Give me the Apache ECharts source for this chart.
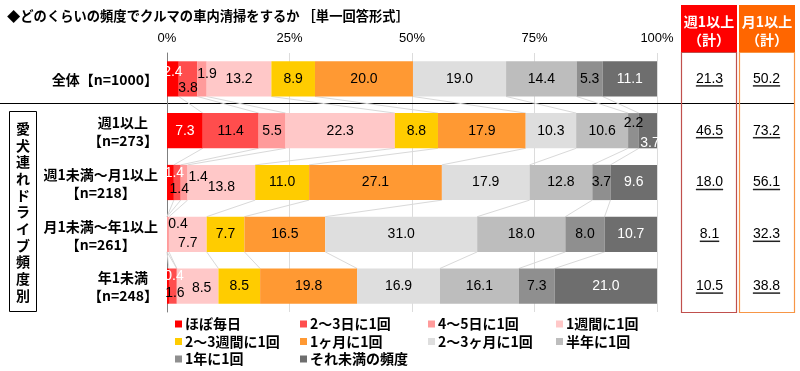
<!DOCTYPE html>
<html><head><meta charset="utf-8">
<script src="https://cdn.jsdelivr.net/npm/echarts@6/dist/echarts.min.js"></script>
<style>html,body{margin:0;padding:0;background:#fff}#c{width:800px;height:371px}</style>
</head><body><div id="c"></div>
<script>
// ---------- data ----------
const categories = ['全体【n=1000】', '週1以上\n【n=273】', '週1未満～月1以上\n【n=218】', '月1未満～年1以上\n【n=261】', '年1未満\n【n=248】'];
const seriesNames = ['ほぼ毎日', '2～3日に1回', '4～5日に1回', '1週間に1回', '2～3週間に1回', '1ヶ月に1回', '2～3ヶ月に1回', '半年に1回', '1年に1回', 'それ未満の頻度'];
const daily          = [2.4, 7.3, 1.4, 0.0, 0.4];
const every2to3Days  = [3.8, 11.4, 1.4, 0.0, 1.6];
const every4to5Days  = [1.9, 5.5, 1.4, 0.4, 0.0];
const weekly         = [13.2, 22.3, 13.8, 7.7, 8.5];
const every2to3Weeks = [8.9, 8.8, 11.0, 7.7, 8.5];
const monthly        = [20.0, 17.9, 27.1, 16.5, 19.8];
const every2to3Months= [19.0, 10.3, 17.9, 31.0, 16.9];
const halfYear       = [14.4, 10.6, 12.8, 18.0, 16.1];
const yearly         = [5.3, 2.2, 3.7, 8.0, 7.3];
const lessOften      = [11.1, 3.7, 9.6, 10.7, 21.0];
const weeklyTotal    = [21.3, 46.5, 18.0, 8.1, 10.5];
const monthlyTotal   = [50.2, 73.2, 56.1, 32.3, 38.8];
const totalColumns   = ['週1以上\n（計）', '月1以上\n（計）'];
const xTickValues    = [0, 25, 50, 75, 100];

// ---------- styling ----------
const seriesValues = [daily, every2to3Days, every4to5Days, weekly, every2to3Weeks, monthly, every2to3Months, halfYear, yearly, lessOften];
const colors = ['#FF0000', '#FF4D4D', '#FF9B9B', '#FFC8C8', '#FFCC00', '#FF9933', '#DEDEDE', '#BDBDBD', '#8F8F8F', '#6E6E6E'];
const labelColors = ['#FFFFFF', '#000', '#000', '#000', '#000', '#000', '#000', '#000', '#000', '#FFFFFF'];
const labelOffsets = {
  '0-0': [0, -7], '1-0': [0, 9], '2-0': [5, -5],
  '8-1': [0, -8], '9-1': [2, 12],
  '0-2': [4, -9], '1-2': [2, 7], '2-2': [14, -5], '3-2': [0, 5],
  '2-3': [10, -10], '3-3': [0, 9],
  '0-4': [6, -10], '1-4': [2, 7], '3-4': [4, 2]
};
const JP = '"Noto Sans CJK JP", sans-serif';
const NUM = '"Liberation Sans", Arial, sans-serif';
const GRID_TOP = 53, GRID_BOTTOM = 59;

const measureCtx = document.createElement('canvas').getContext('2d');
function textWidth(t, font) { measureCtx.font = font; return measureCtx.measureText(t).width; }

const rows = categories.map((_, r) => seriesValues.map(s => s[r]));
function cumulative(r) { let c = 0; return rows[r].map(v => (c += v)); }

const barSeries = seriesNames.map((name, si) => ({
  name, type: 'bar', stack: 'all', barWidth: '68%', xAxisIndex: 0, yAxisIndex: 0,
  itemStyle: { color: colors[si] },
  data: seriesValues[si].map((v, r) => {
    const item = { value: v };
    const off = labelOffsets[si + '-' + r];
    if (off) item.label = { offset: off };
    return item;
  }),
  label: {
    show: true, position: 'inside', color: labelColors[si], fontSize: 14, fontFamily: NUM,
    formatter: p => (p.value > 0 ? p.value.toFixed(1) : '')
  },
  emphasis: { disabled: true }, z: 3
}));

const connectorSeries = {
  type: 'custom', xAxisIndex: 0, yAxisIndex: 0, silent: true, z: 1,
  data: [0, 1, 2, 3].map(i => [0, i]),
  renderItem(params, api) {
    const r = params.dataIndex;
    const a = cumulative(r), b = cumulative(r + 1);
    const h = api.size([0, 1])[1] * 0.34;
    const children = [];
    for (let k = 0; k < 9; k++) {
      const p1 = api.coord([a[k], r]);
      const p2 = api.coord([b[k], r + 1]);
      children.push({ type: 'line', shape: { x1: p1[0], y1: p1[1] + h, x2: p2[0], y2: p2[1] - h },
        style: { stroke: '#D9D9D9', lineWidth: 1 } });
    }
    return { type: 'group', children };
  }
};

const totalsData = [];
categories.forEach((_, r) => { totalsData.push([0, r, weeklyTotal[r]]); totalsData.push([1, r, monthlyTotal[r]]); });
const totalsSeries = {
  type: 'custom', xAxisIndex: 1, yAxisIndex: 1, silent: true,
  data: totalsData,
  renderItem(params, api) {
    const p = api.coord([api.value(0), api.value(1)]);
    const txt = api.value(2).toFixed(1);
    const font = '14px ' + NUM;
    const w = textWidth(txt, font);
    return { type: 'group', children: [
      { type: 'text', style: { text: txt, x: p[0], y: p[1], align: 'center', verticalAlign: 'middle', font, fill: '#000' } },
      { type: 'line', shape: { x1: p[0] - w / 2, y1: p[1] + 7, x2: p[0] + w / 2, y2: p[1] + 7 }, style: { stroke: '#222', lineWidth: 1.5 } }
    ] };
  }
};

// legend laid out as 4 columns (vertical legends) to match the grid of the reference
const legendColumns = [[0, 4, 8], [1, 5, 9], [2, 6], [3, 7]];
const legendLefts = [175, 300, 428, 556];

const chart = echarts.init(document.getElementById('c'), null, { renderer: 'canvas' });
chart.setOption({
  animation: false,
  backgroundColor: '#fff',
  title: { text: '◆どのくらいの頻度でクルマの車内清掃をするか ［単一回答形式］', left: 2, top: 4,
    textStyle: { fontSize: 13.3, fontWeight: 'bold', fontFamily: JP, color: '#000' } },
  legend: legendColumns.map((col, i) => ({
    data: col.map(k => seriesNames[k]), left: legendLefts[i], top: 317, padding: 0, orient: 'vertical',
    itemWidth: 7, itemHeight: 7, itemGap: 3.5, icon: 'rect', selectedMode: false,
    textStyle: { fontSize: 14, fontWeight: 'bold', fontFamily: JP, color: '#000', padding: [0, 0, 0, -2] }
  })),
  grid: [
    { left: 167, right: 143, top: GRID_TOP, bottom: GRID_BOTTOM },
    { left: 681, width: 114, top: GRID_TOP, bottom: GRID_BOTTOM }
  ],
  xAxis: [
    { type: 'value', gridIndex: 0, position: 'top', min: xTickValues[0], max: xTickValues[xTickValues.length - 1], interval: 25,
      axisLabel: { formatter: '{value}%', fontSize: 13, fontFamily: NUM, color: '#000', margin: 8 },
      axisLine: { show: false }, axisTick: { show: false },
      splitLine: { lineStyle: { color: '#DCDCDC' } } },
    { type: 'category', gridIndex: 1, data: totalColumns, show: false }
  ],
  yAxis: [
    { type: 'category', gridIndex: 0, data: categories, inverse: true,
      axisLabel: { show: false },
      axisLine: { lineStyle: { color: '#7F7F7F' } },
      axisTick: { length: 4, lineStyle: { color: '#7F7F7F' } } },
    { type: 'category', gridIndex: 1, data: categories, inverse: true, show: false }
  ],
  series: [connectorSeries, ...barSeries, totalsSeries]
});

// ---------- decorations (labels, boxes) ----------
const labelFont = 'bold 14px ' + JP;
const graphics = [];
categories.forEach((c, r) => {
  const y = chart.convertToPixel({ yAxisIndex: 0 }, r);
  const lines = c.split('\n');
  const maxW = Math.max(...lines.map(l => textWidth(l, labelFont)));
  graphics.push({ type: 'text', x: 158 - maxW / 2, y: y + 1,
    style: { text: c, font: labelFont, fill: '#000', align: 'center', verticalAlign: 'middle', lineHeight: 18 } });
});
// group box
graphics.push({ type: 'rect', shape: { x: 9.5, y: 111.5, width: 27, height: 200 }, style: { fill: 'none', stroke: '#000', lineWidth: 1 } });
graphics.push({ type: 'text', x: 23, y: 212,
  style: { text: '愛犬連れドライブ頻度別'.split('').join('\n'), font: labelFont, fill: '#000', align: 'center', verticalAlign: 'middle', lineHeight: 16.7 } });
// separator line
graphics.push({ type: 'line', shape: { x1: 0, y1: 103.5, x2: 795, y2: 103.5 }, style: { stroke: '#000', lineWidth: 1 } });
// total column headers & boxes
const heads = [{ x: 681, fill: '#FF0000', stroke: '#C0504D' }, { x: 739, fill: '#FF6600', stroke: '#F79646' }];
heads.forEach((h, i) => {
  graphics.push({ type: 'rect', shape: { x: h.x, y: 5, width: 56, height: 47 }, style: { fill: h.fill } });
  graphics.push({ type: 'text', x: h.x + 28, y: 31,
    style: { text: totalColumns[i], font: labelFont, fill: '#fff', align: 'center', verticalAlign: 'middle', lineHeight: 18 } });
  graphics.push({ type: 'rect', shape: { x: h.x + 0.5, y: 52.5, width: 55, height: 260 }, style: { fill: 'none', stroke: h.stroke, lineWidth: 1.2 } });
});
chart.setOption({ graphic: graphics });
</script></body></html>
